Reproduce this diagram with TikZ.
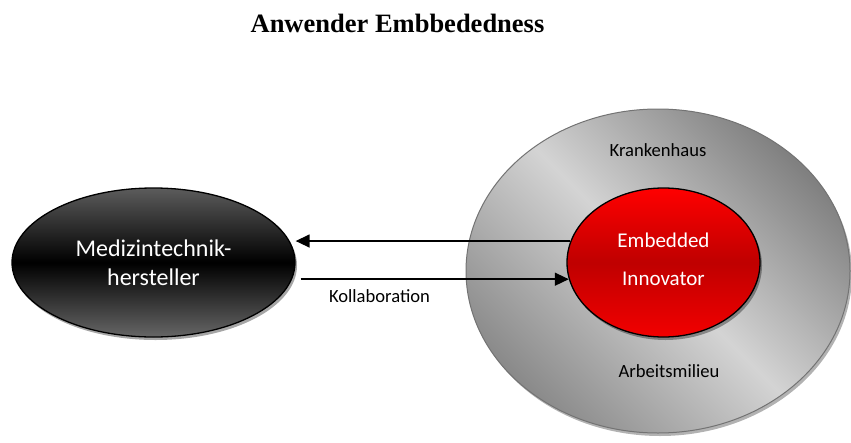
\documentclass[tikz,border=0pt]{standalone}
\usepackage{fontspec}
\setmainfont{Liberation Serif}
\newfontfamily\carl{Carlito}
\usetikzlibrary{shapes.geometric,arrows.meta,calc,shadows}
\begin{document}
\begin{tikzpicture}[x=1pt,y=-1pt,
  blob/.style={ellipse, inner sep=0pt, draw=black, line width=1.3pt,
    drop shadow={shadow xshift=2pt, shadow yshift=-3pt, opacity=0.35, fill=black}},
  arr/.style={line width=1.5pt, -{Triangle[length=14pt,width=13pt]}},
  lbl/.style={font=\carl\fontsize{18.6}{22}\selectfont, text=black}
]
\useasboundingbox (0,0) rectangle (851,442);
\node[font=\bfseries\fontsize{26.5}{30}\selectfont] (title) at (397.5,23) {Anwender Embbededness};

\node[ellipse, inner sep=0pt, draw=black!55, line width=1pt,
      minimum width=384pt, minimum height=324pt,
      top color=black!50, bottom color=black!46, middle color=black!17, shading angle=-45,
      drop shadow={shadow xshift=2pt, shadow yshift=-3pt, opacity=0.3, fill=black}]
  (kh) at (658,271) {};

\node[blob, minimum width=283pt, minimum height=149pt,
      top color=black!64, bottom color=black!60, middle color=black,
      text=white, align=center, font=\carl\fontsize{24}{29}\selectfont]
  (medi) at (153.5,262.5) {Medizintechnik-\\hersteller};

\node[blob, minimum width=193pt, minimum height=149pt,
      top color=red, bottom color=red!95!black, middle color=red!75!black]
  (inno) at (663.5,262.5) {};
\node[text=white, align=center, font=\carl\fontsize{21}{38}\selectfont]
  (innotext) at ($(inno.center)+(0,-3)$) {Embedded\\Innovator};

\node[lbl] (kr) at (658,150) {Krankenhaus};
\node[lbl] (am) at (669,371) {Arbeitsmilieu};
\node[lbl] (kol) at (379.5,296) {Kollaboration};

\draw[arr] (inno.167) -- (inno.167 -| medi.east);
\draw[arr] ($(inno.190.6 -| medi.east)+(5,0)$) -- (inno.190.6);
\end{tikzpicture}
\end{document}
